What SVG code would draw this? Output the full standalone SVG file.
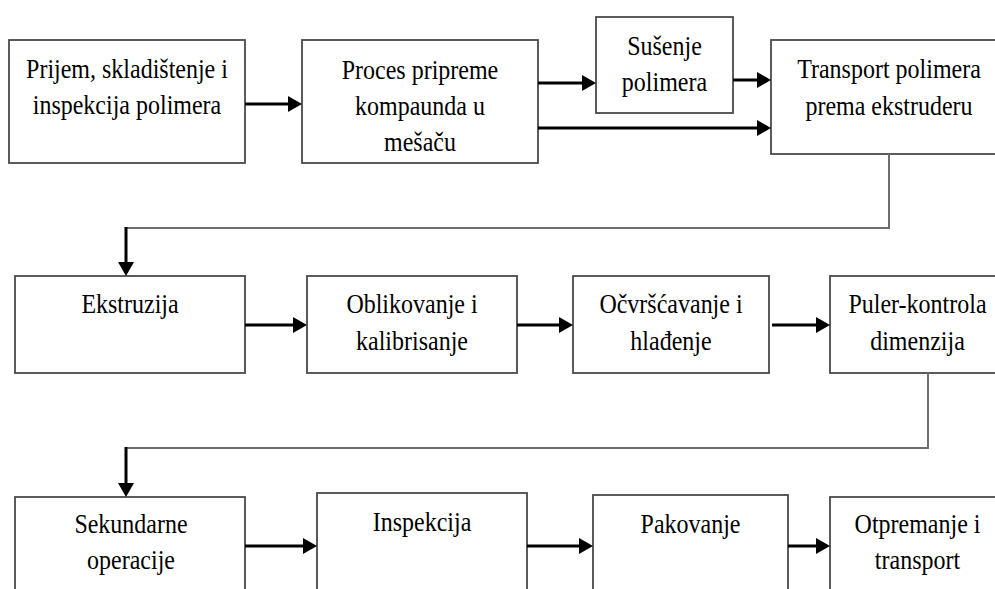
<svg xmlns="http://www.w3.org/2000/svg" width="995" height="589" viewBox="0 0 995 589">
  <style>
    .box { fill: #ffffff; stroke: #4a4a4a; stroke-width: 1.8; }
    .lbl { font-family: "Liberation Serif", "Times New Roman", serif; font-size: 24px; fill: #000000; text-anchor: middle; }
    .flow { fill: none; stroke: #000000; stroke-width: 3; marker-end: url(#head); }
    .route { fill: none; stroke: #6e6e6e; stroke-width: 2; }
  </style>
  <defs>
    <marker id="head" viewBox="0 0 14 16" refX="4" refY="8" markerWidth="14" markerHeight="16" markerUnits="userSpaceOnUse" orient="auto">
      <path d="M0,0 L14,8 L0,16 Z" fill="#000000"/>
    </marker>
  </defs>
  <rect width="995" height="589" fill="#ffffff"/>

  <!-- row 1 -->
  <g id="prijem">
    <rect class="box" x="9" y="40" width="236" height="123"/>
    <text class="lbl" transform="translate(127,78) scale(1,1.12)"><tspan x="0" y="0">Prijem, skladištenje i</tspan><tspan x="0" y="32">inspekcija polimera</tspan></text>
  </g>
  <g id="proces">
    <rect class="box" x="302" y="40" width="236" height="123"/>
    <text class="lbl" transform="translate(420,79) scale(1,1.12)"><tspan x="0" y="0">Proces pripreme</tspan><tspan x="0" y="32.5">kompaunda u</tspan><tspan x="0" y="64.5">mešaču</tspan></text>
  </g>
  <g id="susenje">
    <rect class="box" x="596" y="17" width="137" height="96"/>
    <text class="lbl" transform="translate(664.5,55) scale(1,1.12)"><tspan x="0" y="0">Sušenje</tspan><tspan x="0" y="32.5">polimera</tspan></text>
  </g>
  <g id="transport-polimera">
    <rect class="box" x="771" y="40" width="240" height="114"/>
    <text class="lbl" transform="translate(889,78) scale(1,1.12)"><tspan x="0" y="0">Transport polimera</tspan><tspan x="0" y="33">prema ekstruderu</tspan></text>
  </g>

  <!-- row 2 -->
  <g id="ekstruzija">
    <rect class="box" x="15" y="276" width="230" height="97"/>
    <text class="lbl" transform="translate(130,313) scale(1,1.12)"><tspan x="0" y="0">Ekstruzija</tspan></text>
  </g>
  <g id="oblikovanje">
    <rect class="box" x="307" y="276" width="210" height="97"/>
    <text class="lbl" transform="translate(412,313) scale(1,1.12)"><tspan x="0" y="0">Oblikovanje i</tspan><tspan x="0" y="33">kalibrisanje</tspan></text>
  </g>
  <g id="ocvrscavanje">
    <rect class="box" x="573" y="276" width="196" height="97"/>
    <text class="lbl" transform="translate(671,313) scale(1,1.12)"><tspan x="0" y="0">Očvršćavanje i</tspan><tspan x="0" y="33">hlađenje</tspan></text>
  </g>
  <g id="puler">
    <rect class="box" x="830" y="276" width="180" height="97"/>
    <text class="lbl" transform="translate(917.5,313) scale(1,1.12)"><tspan x="0" y="0">Puler-kontrola</tspan><tspan x="0" y="33">dimenzija</tspan></text>
  </g>

  <!-- row 3 -->
  <g id="sekundarne">
    <rect class="box" x="15" y="497" width="230" height="110"/>
    <text class="lbl" transform="translate(131,533) scale(1,1.12)"><tspan x="0" y="0">Sekundarne</tspan><tspan x="0" y="32.5">operacije</tspan></text>
  </g>
  <g id="inspekcija">
    <rect class="box" x="317" y="493" width="210" height="110"/>
    <text class="lbl" transform="translate(422,531) scale(1,1.12)"><tspan x="0" y="0">Inspekcija</tspan></text>
  </g>
  <g id="pakovanje">
    <rect class="box" x="593" y="495" width="195" height="110"/>
    <text class="lbl" transform="translate(690.5,533) scale(1,1.12)"><tspan x="0" y="0">Pakovanje</tspan></text>
  </g>
  <g id="otpremanje">
    <rect class="box" x="830" y="497" width="180" height="110"/>
    <text class="lbl" transform="translate(917.5,533) scale(1,1.12)"><tspan x="0" y="0">Otpremanje i</tspan><tspan x="0" y="32.5">transport</tspan></text>
  </g>

  <!-- connectors -->
  <g id="connectors">
    <line class="flow" x1="245" y1="104" x2="292" y2="104"/>
    <line class="flow" x1="538" y1="83" x2="586" y2="83"/>
    <line class="flow" x1="733" y1="80" x2="761" y2="80"/>
    <line class="flow" x1="538" y1="128" x2="761" y2="128"/>

    <polyline class="route" points="889,154 889,228 126,228"/>
    <line class="flow" x1="126" y1="227" x2="126" y2="266"/>

    <line class="flow" x1="245" y1="325" x2="297" y2="325"/>
    <line class="flow" x1="517" y1="325" x2="563" y2="325"/>
    <line class="flow" x1="772" y1="325" x2="820" y2="325"/>

    <polyline class="route" points="928,373 928,448 126,448"/>
    <line class="flow" x1="126" y1="447" x2="126" y2="487"/>

    <line class="flow" x1="245" y1="546" x2="307" y2="546"/>
    <line class="flow" x1="527" y1="546" x2="583" y2="546"/>
    <line class="flow" x1="788" y1="546" x2="820" y2="546"/>
  </g>
</svg>
